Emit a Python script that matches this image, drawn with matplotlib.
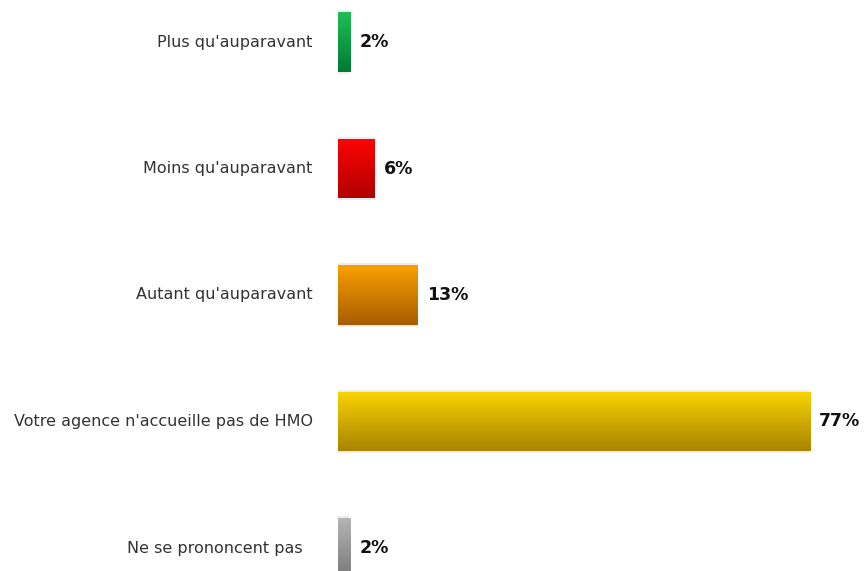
import numpy as np
import matplotlib.pyplot as plt
from matplotlib.colors import LinearSegmentedColormap

categories = ["Plus qu'auparavant", "Moins qu'auparavant", "Autant qu'auparavant",
              "Votre agence n'accueille pas de HMO", "Ne se prononcent pas  "]
values = [2, 6, 13, 77, 2]
# couleur haut / bas du dégradé de chaque barre
top_colors = ['#1fbf55', '#ff0505', '#f9a000', '#fad400', '#b4b4b4']
bottom_colors = ['#007a33', '#b00000', '#a85c00', '#a88400', '#7a7a7a']

fig = plt.figure(figsize=(8.64, 5.71), dpi=100)
ax = fig.add_axes([338 / 864, 0, 1 - 338 / 864, 1])
ax.axis('off')

h = 0.474
grad = np.linspace(0, 1, 256).reshape(-1, 1)
for i, (cat, v) in enumerate(zip(categories, values)):
    # ombre claire autour de la barre
    ax.barh(i, v, height=h + 0.025, left=-0.15, color='#ececec', zorder=1)
    bar = ax.barh(i, v, height=h, color='none', zorder=2)[0]
    cmap = LinearSegmentedColormap.from_list('g%d' % i, [top_colors[i], bottom_colors[i]])
    im = ax.imshow(grad, cmap=cmap, aspect='auto', zorder=3,
                   extent=[0, v, i + h / 2, i - h / 2])
    im.set_clip_path(bar)
    ax.text(v + 1.5, i, '%d%%' % v, va='center', ha='left', fontsize=12.5,
            fontweight='bold', color='#111111', family='DejaVu Sans')
    ax.text(-4.1, i, cat, va='center', ha='right', fontsize=11.5,
            color='#333333', family='DejaVu Sans')

ax.set_xlim(0, 526 / 6.13)
ax.set_ylim((571 - 42) / 126.5, -42 / 126.5)
fig.savefig('out.png', dpi=100)
